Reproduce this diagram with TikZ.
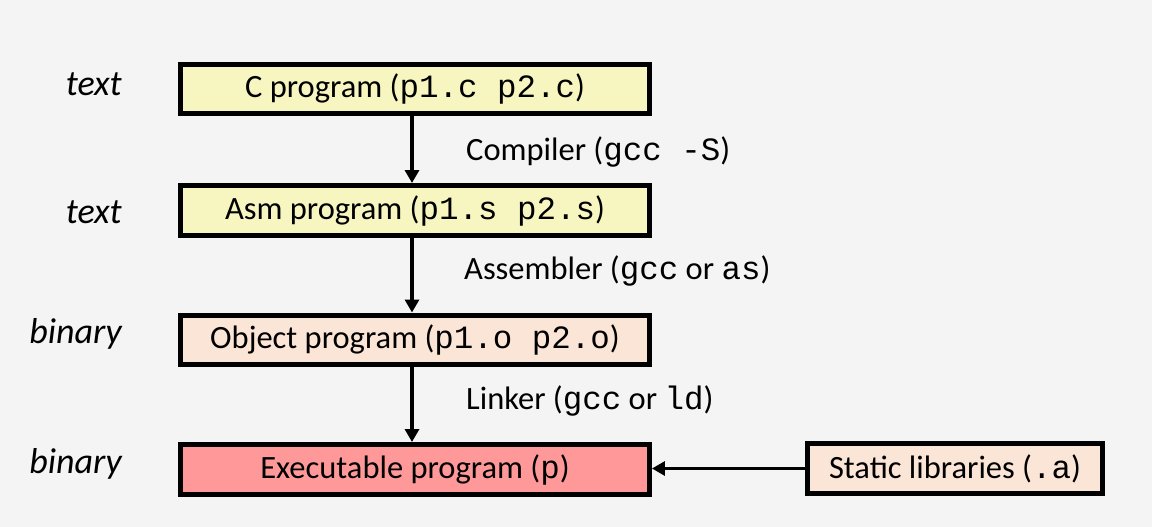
\documentclass[tikz,border=0pt]{standalone}
\usepackage{fontspec}
\setmainfont{Carlito}
\setmonofont{Liberation Mono}
\usepackage{tikz}
\usetikzlibrary{
  positioning,
  arrows.meta
}
\definecolor{bggray}{HTML}{F4F4F4}
\definecolor{srcyellow}{HTML}{F7F6C0}
\definecolor{objpeach}{HTML}{FBE5D6}
\definecolor{exered}{HTML}{FF9999}

\tikzset{
  stagebox/.style={draw=black, line width=0.1cm, minimum width=9.38cm, minimum height=1.0cm, inner sep=0pt, font=\fontsize{18.5}{22}\selectfont},
  kindlabel/.style={anchor=east, font=\fontsize{20.5}{24}\selectfont\itshape},
  toollabel/.style={anchor=west, font=\fontsize{18.5}{22}\selectfont},
  flow/.style={line width=0.09cm, -{Triangle[width=0.28cm, length=0.26cm]}}
}

\begin{document}
\begin{tikzpicture}[x=0.02cm, y=-0.02cm]

		% background
		\fill[bggray] (0,0) rectangle (1152,527);
		\useasboundingbox (0,0) rectangle (1152,527);

		% stages
		\node[stagebox, fill=srcyellow] (cprog) at (415,89) {C program (\texttt{p1.c p2.c})};
		\node[stagebox, fill=srcyellow] (asmprog) at (415,210.5) {Asm program (\texttt{p1.s p2.s})};
		\node[stagebox, fill=objpeach] (objprog) at (415,340) {Object program (\texttt{p1.o p2.o})};
		\node[stagebox, fill=exered] (exeprog) at (415,469.5) {Executable program (\texttt{p})};
		\node[stagebox, fill=objpeach, minimum width=5.9cm] (statlib) at (955,468.5) {Static libraries (\texttt{.a})};

		% kinds
		\node[kindlabel] (k1) at (128,84) {text};
		\node[kindlabel] (k2) at (128,212) {text};
		\node[kindlabel] (k3) at (128,334) {binary};
		\node[kindlabel] (k4) at (128,464) {binary};

		% tools
		\node[toollabel] (compiler) at (460,152) {Compiler (\texttt{gcc -S})};
		\node[toollabel] (assembler) at (458,271) {Assembler (\texttt{gcc} or \texttt{as})};
		\node[toollabel] (linker) at (460,401) {Linker (\texttt{gcc} or \texttt{ld})};

		% arrows
		\draw[flow] (cprog.south -| 412,0) -- (asmprog.north -| 412,0);
		\draw[flow] (asmprog.south -| 412,0) -- (objprog.north -| 412,0);
		\draw[flow] (objprog.south -| 412,0) -- (exeprog.north -| 412,0);
		\draw[flow, line width=0.06cm] (statlib.west) -- (statlib.west -| exeprog.east);

	\end{tikzpicture}
\end{document}
